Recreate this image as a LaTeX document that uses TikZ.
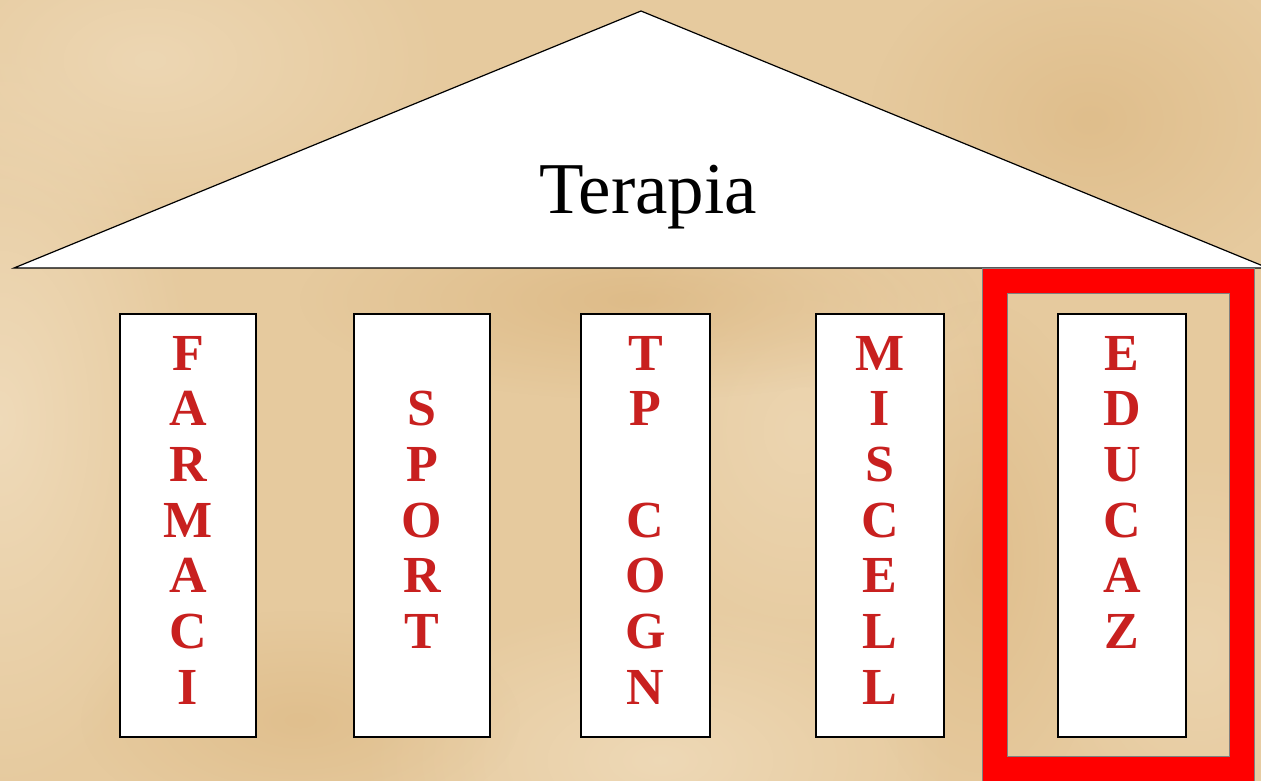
\documentclass[tikz,border=0pt]{standalone}
\usepackage{fontspec}
\setmainfont{Liberation Serif}
\usetikzlibrary{fadings}
\definecolor{bgbase}{HTML}{E6CA9E}
\definecolor{bglight}{HTML}{F0DCBC}
\definecolor{bgdark}{HTML}{D9B27A}
\definecolor{lettred}{HTML}{C8201F}
\definecolor{framegray}{HTML}{808080}
\tikzfading[name=softblob, inner color=transparent!0, outer color=transparent!100]
\begin{document}
\begin{tikzpicture}[x=1pt,y=-1pt,
  colbox/.style={draw=black,line width=1.4pt,fill=white},
  letter/.style={font=\fontsize{52}{52}\selectfont\bfseries,text=lettred,anchor=base,inner sep=0pt},
  blob/.style={path fading=softblob}]
\useasboundingbox (0,0) rectangle (1261,781);
\begin{scope}
\clip (0,0) rectangle (1261,781);
% parchment background
\fill[bgbase] (0,0) rectangle (1261,781);
\fill[bglight,opacity=0.9,blob] (0,420) ellipse (200 and 380);
\fill[bglight,opacity=0.8,blob] (660,760) ellipse (300 and 160);
\fill[bglight,opacity=0.7,blob] (150,60) ellipse (300 and 180);
\fill[bglight,opacity=0.6,blob] (800,430) ellipse (220 and 260);
\fill[bglight,opacity=0.5,blob] (1200,650) ellipse (160 and 200);
\fill[bgdark,opacity=0.6,blob] (640,300) ellipse (340 and 100);
\fill[bgdark,opacity=0.5,blob] (1090,120) ellipse (220 and 170);
\fill[bgdark,opacity=0.45,blob] (300,720) ellipse (220 and 110);
\fill[bgdark,opacity=0.45,blob] (980,560) ellipse (130 and 260);
% roof
\coordinate (rl) at (14,268);
\coordinate (ra) at (641,11);
\coordinate (rr) at (1268,268);
\draw[fill=white,line width=1.2pt,line join=miter] (rl) -- (ra) -- (rr) -- cycle;
\node[font=\fontsize{73}{73}\selectfont,anchor=base,inner sep=0pt] (title) at (648,213) {Terapia};
% highlight frame
\draw[fill=red,draw=framegray,line width=1pt,even odd rule]
  (982,268) rectangle (1254,795) (1007,293) rectangle (1229,756);
\end{scope}
% columns
\node[colbox,minimum width=136pt,minimum height=423pt,inner sep=0pt] (c1) at (188,525.5) {};
\node[colbox,minimum width=136pt,minimum height=423pt,inner sep=0pt] (c2) at (422,525.5) {};
\node[colbox,minimum width=129pt,minimum height=423pt,inner sep=0pt] (c3) at (645.5,525.5) {};
\node[colbox,minimum width=128pt,minimum height=423pt,inner sep=0pt] (c4) at (880,525.5) {};
\node[colbox,minimum width=128pt,minimum height=423pt,inner sep=0pt] (c5) at (1122,525.5) {};
% letters
\foreach \ch [count=\i from 0] in {F,A,R,M,A,C,I}
  \node[letter] (a\i) at (188,370+55.67*\i) {\ch};
\foreach \ch [count=\i from 1] in {S,P,O,R,T}
  \node[letter] (b\i) at (422,370+55.67*\i) {\ch};
\foreach \ch/\i in {T/0,P/1,C/3,O/4,G/5,N/6}
  \node[letter] (t\i) at (645.5,370+55.67*\i) {\ch};
\foreach \ch [count=\i from 0] in {M,I,S,C,E,L,L}
  \node[letter] (m\i) at (880,370+55.67*\i) {\ch};
\foreach \ch [count=\i from 0] in {E,D,U,C,A,Z}
  \node[letter] (e\i) at (1122,370+55.67*\i) {\ch};
\end{tikzpicture}
\end{document}
